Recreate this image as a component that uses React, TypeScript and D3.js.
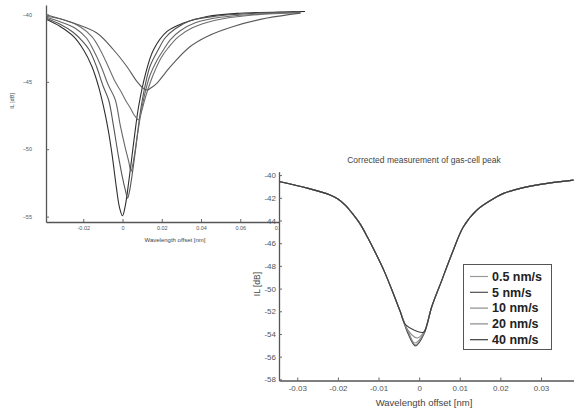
import * as d3 from "d3";
import { useEffect, useRef } from "react";

const W = 579;
const H = 408;

// sweep speeds (legend)
const speeds = ["0.5 nm/s", "5 nm/s", "10 nm/s", "20 nm/s", "40 nm/s"];

// left panel: raw measurement [wavelength offset nm, IL dB]
const raw05 = [
  [-0.0389, -40.36], [-0.0318, -40.89], [-0.025, -41.63], [-0.0199, -42.62], [-0.0156, -43.86],
  [-0.0122, -45.35], [-0.0097, -46.83], [-0.0073, -48.56], [-0.0053, -50.42], [-0.0032, -52.77],
  [-0.0015, -54.35], [0, -54.94], [0.0014, -54.2], [0.0031, -52.49], [0.0048, -50.54],
  [0.0065, -48.56], [0.0082, -46.83], [0.0116, -44.48], [0.0158, -42.62], [0.0227, -41.26],
  [0.0311, -40.64], [0.0431, -40.15], [0.0601, -39.91], [0.0856, -39.8], [0.093, -39.78],
];
const raw5 = [
  [-0.0389, -40.28], [-0.0318, -40.73], [-0.0252, -41.32], [-0.0201, -42.03], [-0.017, -42.62],
  [-0.0134, -43.81], [-0.0098, -45.35], [-0.0071, -46.33], [-0.0047, -48.19], [-0.0022, -50.42],
  [-0.0002, -51.97], [0.0014, -53.01], [0.0026, -53.63], [0.0037, -53.01], [0.0049, -51.9],
  [0.0065, -50.19], [0.008, -48.41], [0.0095, -46.85], [0.0116, -45.22], [0.0141, -43.81],
  [0.0182, -42.62], [0.0218, -41.73], [0.0269, -41.06], [0.0345, -40.47], [0.0473, -40.13],
  [0.0651, -39.93], [0.0906, -39.81],
];
const raw10 = [
  [-0.0389, -40.21], [-0.0318, -40.54], [-0.0241, -41.02], [-0.0185, -41.73], [-0.0149, -42.62],
  [-0.0109, -43.86], [-0.0073, -45.22], [-0.0037, -46.33], [-0.0012, -48.19], [0.0014, -49.9],
  [0.0032, -50.94], [0.0043, -51.66], [0.0052, -51.16], [0.0065, -50.04], [0.008, -48.56],
  [0.0095, -47.22], [0.0116, -45.74], [0.0141, -44.48], [0.0177, -43.36], [0.0209, -42.62],
  [0.0243, -41.88], [0.0294, -41.21], [0.0371, -40.62], [0.0498, -40.21], [0.0677, -39.99],
  [0.0907, -39.84],
];
const raw20 = [
  [-0.0389, -40.13], [-0.0292, -40.43], [-0.0216, -40.91], [-0.0155, -41.66], [-0.0114, -42.62],
  [-0.0073, -43.86], [-0.0037, -45.0], [-0.0007, -45.74], [0.0014, -46.33], [0.0039, -46.93],
  [0.0062, -47.52], [0.0082, -47.82], [0.0095, -47.3], [0.0116, -46.18], [0.0141, -45.07],
  [0.0167, -44.11], [0.0197, -43.21], [0.0233, -42.47], [0.0284, -41.66], [0.0356, -40.99],
  [0.0473, -40.43], [0.0651, -40.06], [0.0907, -39.87],
];
const raw40 = [
  [-0.0389, -40.02], [-0.025, -40.64], [-0.0131, -41.38], [-0.0046, -42.62], [0.0022, -43.86],
  [0.0073, -44.97], [0.0106, -45.48], [0.0126, -45.61], [0.0146, -45.44], [0.0176, -45.09],
  [0.0218, -44.33], [0.026, -43.61], [0.0345, -42.38], [0.0431, -41.63], [0.0565, -40.89],
  [0.0737, -40.27], [0.0907, -39.9],
];

// right panel: corrected measurement, flanks are shared, bottoms differ
const corrLeft = [
  [-0.0345, -40.57], [-0.0273, -41.17], [-0.0219, -41.76], [-0.02, -42.1], [-0.0182, -42.64],
  [-0.0165, -43.35], [-0.0145, -44.32], [-0.0126, -45.55], [-0.0106, -46.96], [-0.0086, -48.46],
  [-0.0067, -50.13], [-0.0047, -51.98],
];
const corrRight = [
  [0.0031, -51.6], [0.0056, -49.25], [0.0081, -46.9], [0.0109, -44.55], [0.0142, -43.08],
  [0.0191, -41.91], [0.0208, -41.61], [0.0249, -41.17], [0.0315, -40.73], [0.038, -40.44],
];
const bottom05 = [[-0.0026, -53.95], [-0.001, -54.95], [0.0011, -53.95]];
const bottom5 = [[-0.0027, -54.0], [-0.0009, -55.05], [0.0012, -54.0]];
const bottom10 = [[-0.0026, -53.85], [-0.0011, -54.8], [0.0012, -53.9]];
const bottom20 = [[-0.0029, -53.6], [-0.0005, -54.35], [0.0014, -53.7]];
const bottom40 = [[-0.0033, -53.2], [0.0011, -53.85], [0.0019, -53.2]];

const rawSeries = [raw05, raw5, raw10, raw20, raw40];
const corrSeries = [bottom05, bottom5, bottom10, bottom20, bottom40].map((b) => [...corrLeft, ...b, ...corrRight]);

const rawColors = ["#2e2e2e", "#555", "#666", "#6e6e6e", "#5a5a5a"];
const corrColors = ["#9a9a9a", "#505050", "#8c8c8c", "#8a8a8a", "#3c3c3c"];

const rawXTicks = [-0.02, 0, 0.02, 0.04, 0.06, 0.08];
const rawYTicks = [-40, -45, -50, -55];
const corrXTicks = [-0.03, -0.02, -0.01, 0, 0.01, 0.02, 0.03];
const corrYTicks = [-40, -42, -44, -46, -48, -50, -52, -54, -56, -58];

const fmtX = (d: number) => (d === 0 ? "0" : d.toFixed(2));
const font = "'Liberation Sans', Arial, sans-serif";

const App = () => {
  const ref = useRef<SVGSVGElement>(null);

  useEffect(() => {
    const svg = d3.select(ref.current);
    svg.selectAll("*").remove();

    // ---- left panel (raw)
    const xL = d3.scaleLinear().domain([-0.039, 0.093]).range([46, 305]);
    const yL = d3.scaleLinear().domain([-39.3, -55.4]).range([5, 222]);
    const gL = svg.append("g");

    const lineL = d3.line<number[]>().x((d) => xL(d[0])).y((d) => yL(d[1])).curve(d3.curveCatmullRom.alpha(0.5));
    rawSeries.forEach((s, i) => {
      gL.append("path").attr("d", lineL(s)).attr("fill", "none")
        .attr("stroke", rawColors[i]).attr("stroke-width", 1.1);
    });

    const axL = gL.append("g").attr("transform", "translate(0,222)")
      .call(d3.axisBottom(xL).tickValues(rawXTicks).tickFormat((d) => fmtX(+d)).tickSizeInner(-3).tickSizeOuter(0).tickPadding(4));
    const ayL = gL.append("g").attr("transform", "translate(46,0)")
      .call(d3.axisLeft(yL).tickValues(rawYTicks).tickSizeInner(-3).tickSizeOuter(0).tickPadding(14));
    [axL, ayL].forEach((a) => {
      a.select(".domain").attr("stroke", "#555").attr("stroke-width", 1.3);
      a.selectAll(".tick line").attr("stroke", "#666");
      a.selectAll("text").attr("font-size", 5.5).attr("font-family", font).attr("fill", "#555");
    });

    gL.append("text").attr("x", 175).attr("y", 242).attr("text-anchor", "middle")
      .attr("font-size", 6).attr("font-family", font).attr("fill", "#444").text("Wavelength offset [nm]");
    gL.append("text").attr("transform", "translate(14,101) rotate(-90)").attr("text-anchor", "middle")
      .attr("font-size", 5.5).attr("font-family", font).attr("fill", "#444").text("IL [dB]");

    // ---- right panel (corrected), drawn over the left one
    svg.append("rect").attr("x", 279.5).attr("y", 150).attr("width", W - 279.5).attr("height", H - 150).attr("fill", "#fff");

    const xR = d3.scaleLinear().domain([-0.0345, 0.038]).range([279, 573.5]);
    const yR = d3.scaleLinear().domain([-39.7, -58.1]).range([171.7, 380.5]);
    const gR = svg.append("g");

    const lineR = d3.line<number[]>().x((d) => xR(d[0])).y((d) => yR(d[1])).curve(d3.curveCatmullRom.alpha(0.5));
    corrSeries.forEach((s, i) => {
      gR.append("path").attr("d", lineR(s)).attr("fill", "none")
        .attr("stroke", corrColors[i]).attr("stroke-width", 1.1);
    });

    const axR = gR.append("g").attr("transform", "translate(0,380.5)")
      .call(d3.axisBottom(xR).tickValues(corrXTicks).tickFormat((d) => fmtX(+d)).tickSizeInner(-3).tickSizeOuter(0).tickPadding(5));
    const ayR = gR.append("g").attr("transform", "translate(279,0)")
      .call(d3.axisLeft(yR).tickValues(corrYTicks).tickFormat((d) => String(d)).tickSizeInner(-3).tickSizeOuter(0).tickPadding(3));
    [axR, ayR].forEach((a) => {
      a.select(".domain").attr("stroke", "#555").attr("stroke-width", 1.3);
      a.selectAll(".tick line").attr("stroke", "#666");
      a.selectAll("text").attr("font-size", 8).attr("font-family", font).attr("fill", "#555");
    });

    gR.append("text").attr("x", 424).attr("y", 163).attr("text-anchor", "middle")
      .attr("font-size", 8.5).attr("font-family", font).attr("fill", "#444").text("Corrected measurement of gas-cell peak");
    gR.append("text").attr("x", 424).attr("y", 406).attr("text-anchor", "middle")
      .attr("font-size", 9.5).attr("font-family", font).attr("fill", "#444").text("Wavelength offset [nm]");
    gR.append("text").attr("transform", "translate(260,284) rotate(-90)").attr("text-anchor", "middle")
      .attr("font-size", 8.5).attr("font-family", font).attr("fill", "#444").text("IL [dB]");

    // legend
    const lg = gR.append("g");
    lg.append("rect").attr("x", 463.5).attr("y", 264.5).attr("width", 88).attr("height", 85)
      .attr("fill", "#fff").attr("stroke", "#555").attr("stroke-width", 1);
    speeds.forEach((s, i) => {
      const y = 276.5 + i * 15.8;
      lg.append("line").attr("x1", 470).attr("x2", 488).attr("y1", y).attr("y2", y)
        .attr("stroke", corrColors[i]).attr("stroke-width", 1.2);
      lg.append("text").attr("x", 492).attr("y", y).attr("dy", "0.35em")
        .attr("font-size", 12.5).attr("font-weight", "bold").attr("font-family", font)
        .attr("fill", "#222").text(s);
    });
  }, []);

  return (
    <svg ref={ref} width={W} height={H} style={{ position: "absolute", left: 0, top: 0, background: "#fff" }} />
  );
};

export default App;
